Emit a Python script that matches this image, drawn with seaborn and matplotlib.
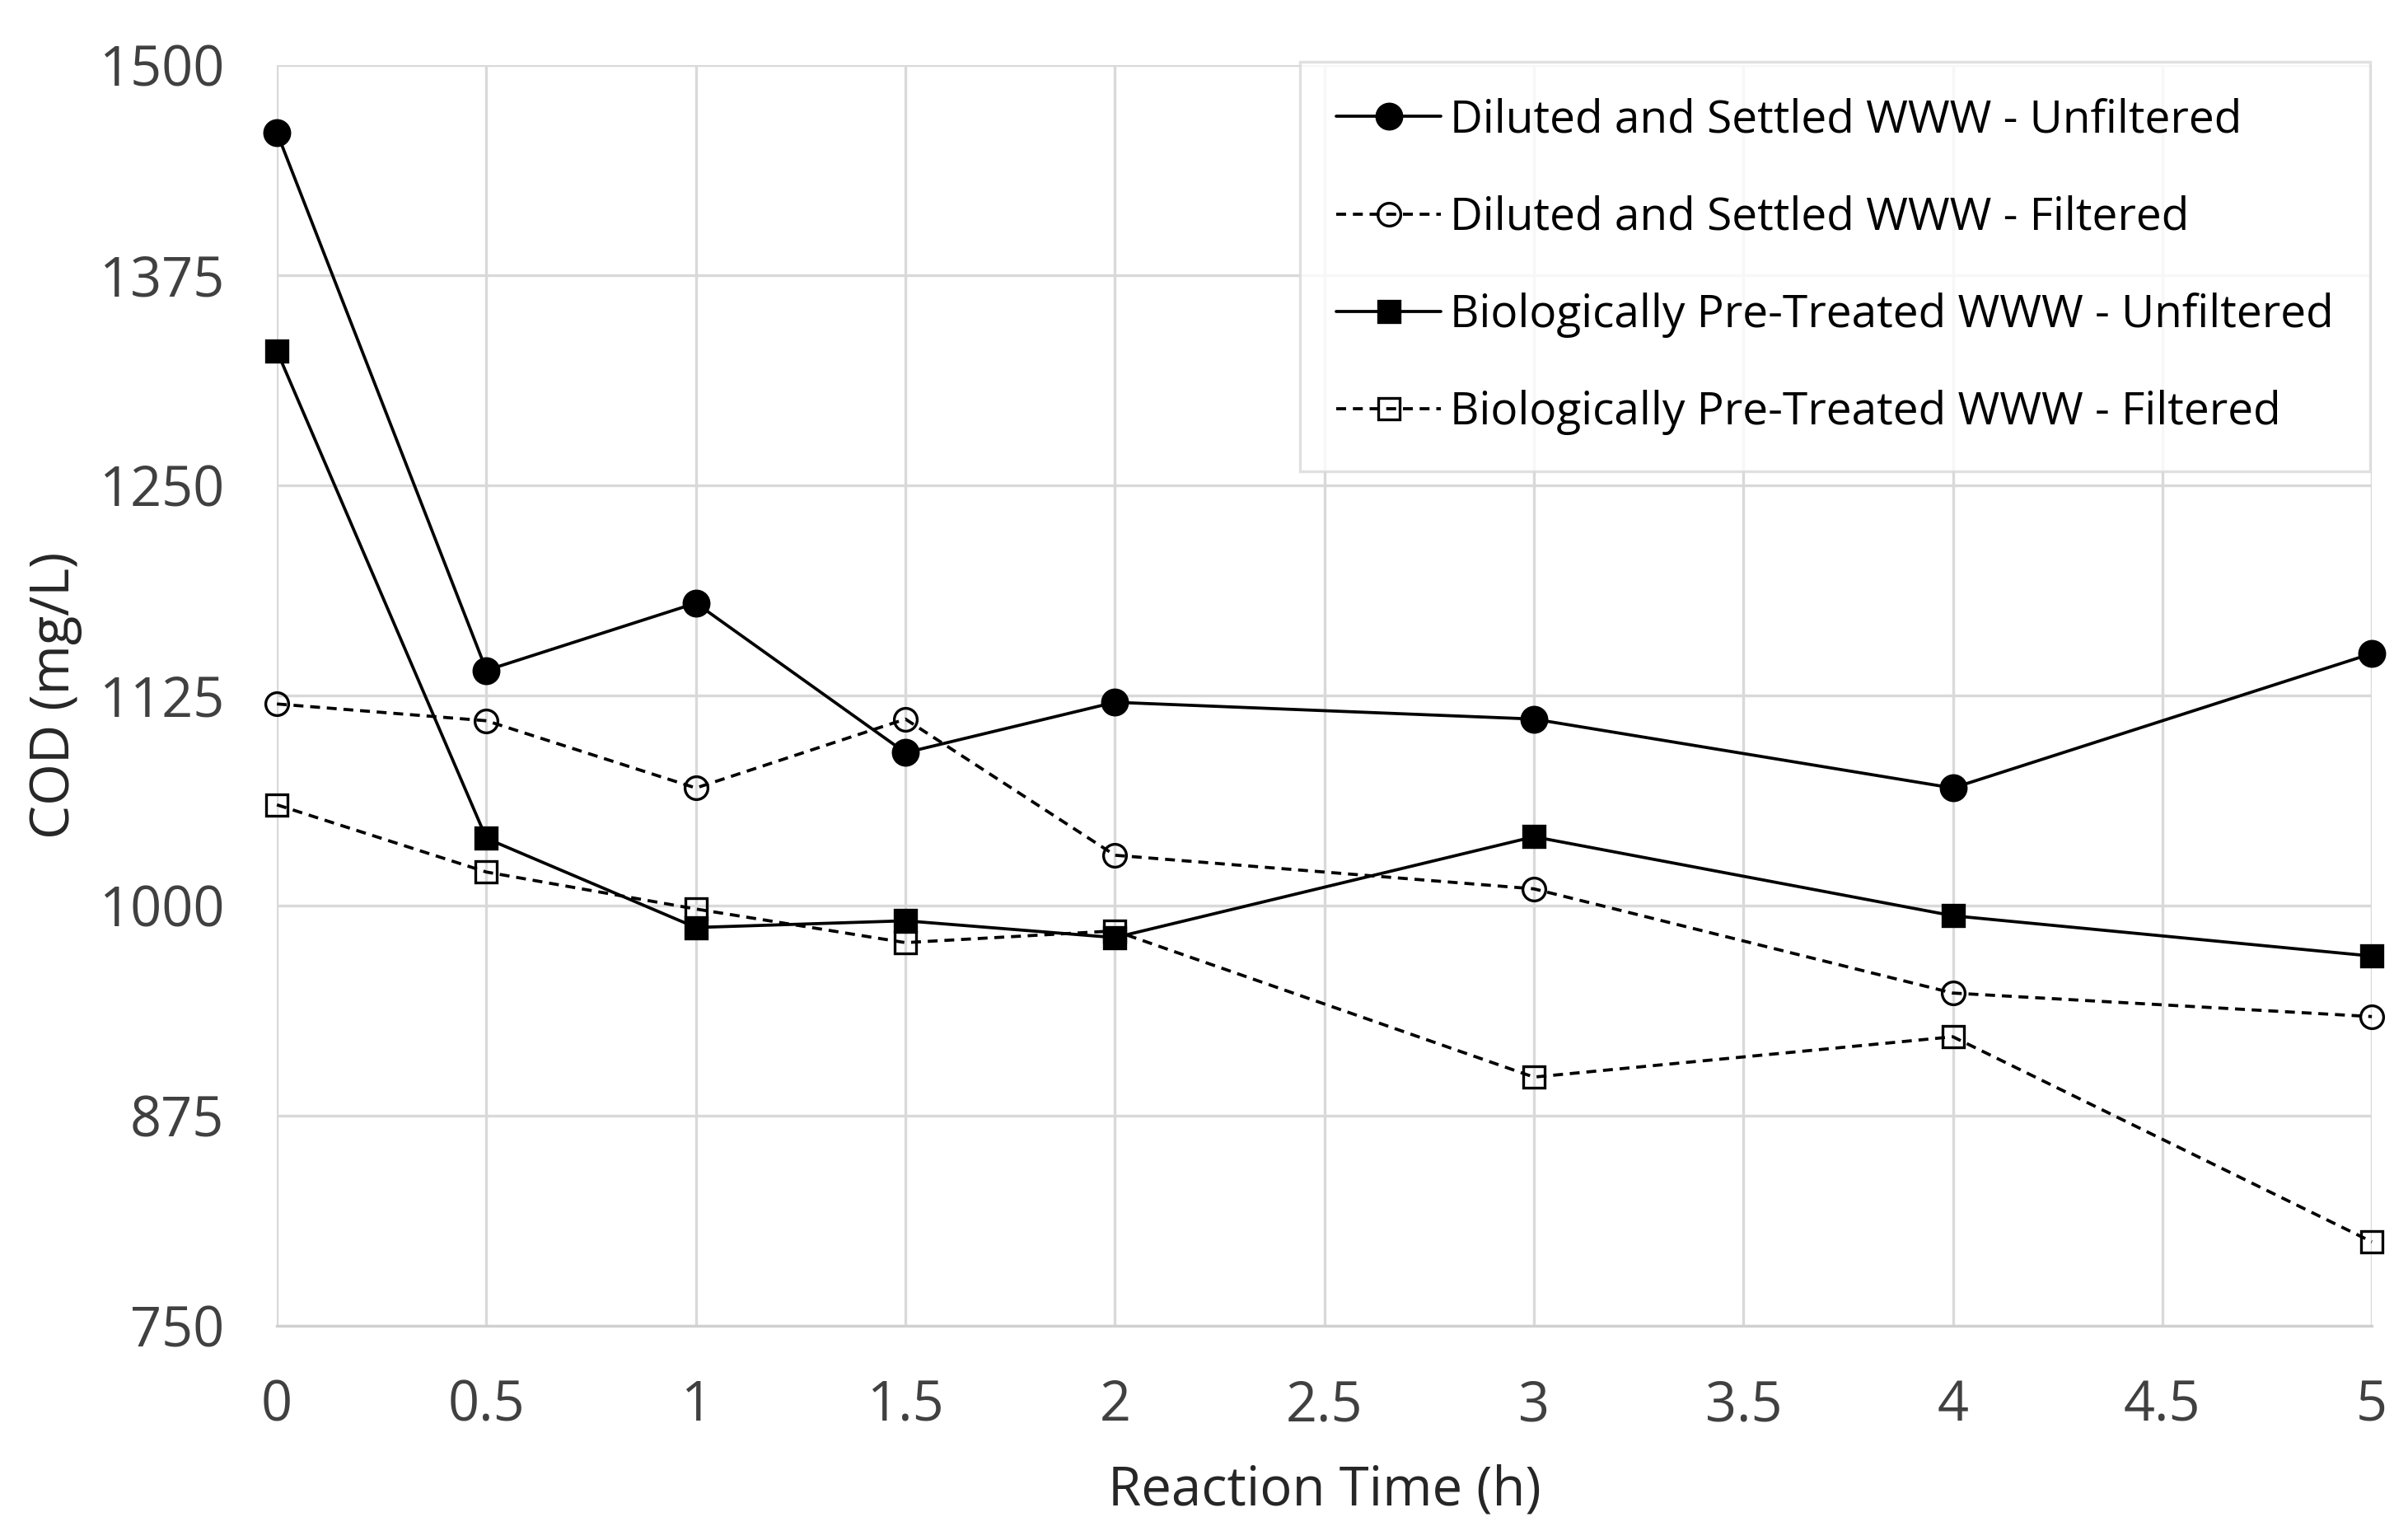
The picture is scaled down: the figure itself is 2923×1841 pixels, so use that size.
import matplotlib
matplotlib.use("Agg")
import matplotlib.pyplot as plt
import seaborn as sns

time_h = [0, 0.5, 1, 1.5, 2, 3, 4, 5]
dil_unf = [1460, 1140, 1180, 1091, 1121, 1111, 1070, 1150]
dil_fil = [1120, 1110, 1070, 1111, 1030, 1010, 948, 934]
bio_unf = [1330, 1040, 987, 991, 981, 1041, 994, 970]
bio_fil = [1060, 1020, 998, 978, 985, 898, 922, 800]

labels = ["Diluted and Settled WWW - Unfiltered",
          "Diluted and Settled WWW - Filtered",
          "Biologically Pre-Treated WWW - Unfiltered",
          "Biologically Pre-Treated WWW - Filtered"]
yticks = [750, 875, 1000, 1125, 1250, 1375, 1500]
xticks = [0, 0.5, 1, 1.5, 2, 2.5, 3, 3.5, 4, 4.5, 5]

sns.set_style("white")
plt.rcParams['font.family'] = ['Open Sans', 'DejaVu Sans']

fig, ax = plt.subplots(figsize=(14.615, 9.205), dpi=200)
fig.subplots_adjust(left=0.115, right=0.985, top=0.957, bottom=0.126)

dash = (0, (3.2, 2.2))
styles = [
    dict(marker="o", linestyle="-", markerfacecolor="black", markersize=11),
    dict(marker="o", linestyle=dash, markerfacecolor="none", markersize=10),
    dict(marker="s", linestyle="-", markerfacecolor="black", markersize=9.5),
    dict(marker="s", linestyle=dash, markerfacecolor="none", markersize=9.5),
]
for vals, lab, st in zip([dil_unf, dil_fil, bio_unf, bio_fil], labels, styles):
    sns.lineplot(x=time_h, y=vals, ax=ax, color="black", linewidth=1.35,
                 markeredgecolor="black", markeredgewidth=1.2, label=lab,
                 clip_on=False, zorder=3, **st)

ax.set_xlim(0, 5)
ax.set_ylim(750, 1500)
ax.set_xticks(xticks)
ax.set_xticklabels([f"{t:g}" for t in xticks])
ax.set_yticks(yticks)
ax.grid(True, color="#d9d9d9", linewidth=1.2)
for s in ["top", "right", "left"]:
    ax.spines[s].set_visible(False)
ax.spines["bottom"].set_color("#d0d0d0")
ax.spines["bottom"].set_linewidth(1.2)
ax.tick_params(axis="both", length=8, width=1.2, color="#d0d0d0",
               labelsize=24, labelcolor="#404040", pad=15)

ax.set_xlabel("Reaction Time (h)", fontsize=23.5, color="#262626", labelpad=13)
ax.set_ylabel("COD (mg/L)", fontsize=23.5, color="#262626", labelpad=7)

leg = ax.legend(loc="upper right", bbox_to_anchor=(0.999, 1.003), fontsize=19.8,
                frameon=True, fancybox=False, edgecolor="#d9d9d9",
                handlelength=2.3, handletextpad=0.2, labelspacing=1.15,
                borderpad=0.8, borderaxespad=0)
leg.get_frame().set_linewidth(1.2)
for t in leg.get_texts():
    t.set_color("black")

fig.savefig("out.png", dpi=200)
